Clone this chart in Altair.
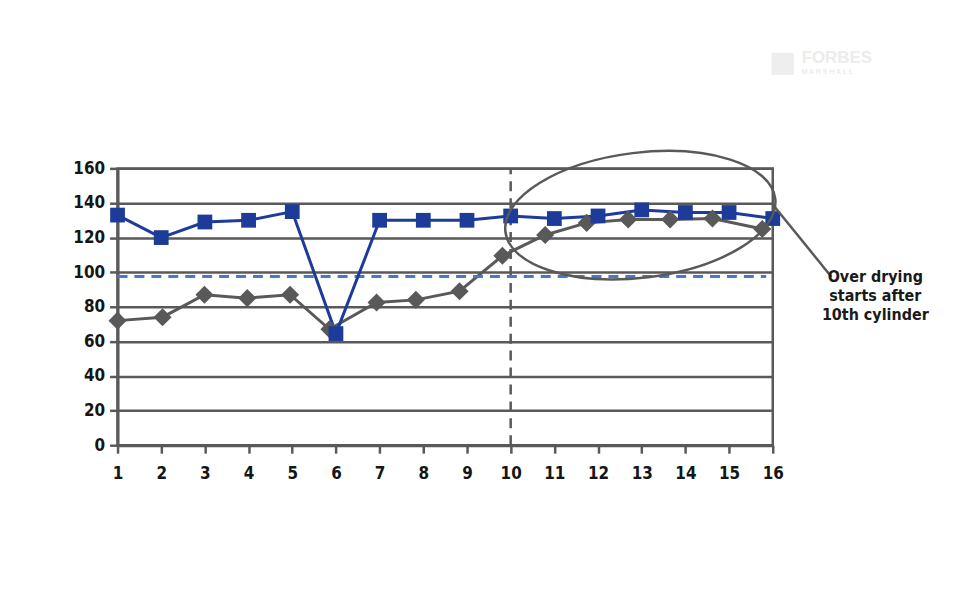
import altair as alt
import pandas as pd

# ---- data ----
cylinders = list(range(1, 17))
blue_values = [133, 120, 129, 130, 135, 64.5, 130, 130, 130, 132.5, 131, 132.5, 136, 134.5, 134.5, 131]
gray_positions = [1, 2.03, 2.99, 3.97, 4.95, 5.85, 6.93, 7.83, 8.83, 9.81, 10.79, 11.74, 12.69, 13.65, 14.62, 15.76]
gray_values = [72, 74, 87, 85, 87, 67, 82.5, 84, 89, 109.5, 121.5, 128.5, 130.5, 130.5, 131, 125]
target_level = 97.5
target_span = [1, 15.85]
marker_cylinder = 10
y_ticks = [0, 20, 40, 60, 80, 100, 120, 140, 160]
note_text = "Over drying\nstarts after\n10th cylinder"

W, H = 658, 278
FONT = "Liberation Sans Narrow, DejaVu Sans Condensed, Liberation Sans, sans-serif"
DARK = "#595959"
BLUE = "#1d3b98"
LIGHTBLUE = "#4a78c6"

blue_df = pd.DataFrame({"cyl": cylinders, "val": blue_values})
gray_df = pd.DataFrame({"cyl": gray_positions, "val": gray_values})

xs = alt.Scale(domain=[1, 16], nice=False, zero=False)
ys = alt.Scale(domain=[0, 160], nice=False)

x_axis = alt.Axis(values=cylinders, format="d", title=None, grid=False,
                  domainColor=DARK, domainWidth=3, tickColor=DARK, tickWidth=2.5,
                  tickSize=8, labelPadding=12, labelFont=FONT, labelFontSize=17,
                  labelFontWeight="bold", labelColor="#151515", labelOverlap=False,
                  labelFlush=False)
y_axis = alt.Axis(values=y_ticks, title=None, grid=True, gridColor=DARK, gridWidth=2.5,
                  domainColor=DARK, domainWidth=3, tickColor=DARK, tickWidth=2.5,
                  tickSize=8, labelPadding=5, labelFont=FONT, labelFontSize=17,
                  labelFontWeight="bold", labelColor="#151515", labelOverlap=False,
                  labelFlush=False)


def X(field):
    return alt.X(field, scale=xs, axis=x_axis)


def Y(field):
    return alt.Y(field, scale=ys, axis=y_axis)


base_gray = alt.Chart(gray_df).encode(x=X("cyl:Q"), y=Y("val:Q"))
gray_line = base_gray.mark_line(color=DARK, strokeWidth=3)
gray_pts = base_gray.mark_point(shape="diamond", filled=True, size=330, color=DARK, opacity=1)

base_blue = alt.Chart(blue_df).encode(x=X("cyl:Q"), y=Y("val:Q"))
blue_line = base_blue.mark_line(color=BLUE, strokeWidth=3)
blue_pts = base_blue.mark_point(shape="square", filled=True, size=220, color=BLUE, opacity=1)

target_df = pd.DataFrame({"cyl": [target_span[0]], "x2": [target_span[1]], "val": [target_level]})
target = alt.Chart(target_df).mark_rule(
    color=LIGHTBLUE, strokeWidth=3, strokeDash=[10, 7]
).encode(x=X("cyl:Q"), x2="x2:Q", y=Y("val:Q"))

vline_df = pd.DataFrame({"cyl": [marker_cylinder], "val": [0], "y2": [160]})
vline = alt.Chart(vline_df).mark_rule(
    color=DARK, strokeWidth=2.5, strokeDash=[10, 7]
).encode(x=X("cyl:Q"), y=Y("val:Q"), y2="y2:Q")

ELLIPSE = ("M-1,0 C-1,-0.254 -0.5523,-0.46 0,-0.46 C0.5523,-0.46 1,-0.254 1,0 "
           "C1,0.254 0.5523,0.46 0,0.46 C-0.5523,0.46 -1,0.254 -1,0 Z")
dummy = pd.DataFrame({"a": [0]})
ellipse = alt.Chart(dummy).mark_point(
    shape=ELLIPSE, size=74529, filled=False, stroke=DARK, strokeWidth=2.5, angle=353, opacity=1
).encode(x=alt.value(525), y=alt.value(47))

pointer = alt.Chart(dummy).mark_rule(color=DARK, strokeWidth=2.5).encode(
    x=alt.value(657), x2=alt.value(717), y=alt.value(35), y2=alt.value(109)
)

note = alt.Chart(dummy).mark_text(
    text=note_text, lineBreak="\n", lineHeight=19, align="center", baseline="top",
    font=FONT, fontSize=16, fontWeight="bold", color="#1a1a1a"
).encode(x=alt.value(761), y=alt.value(101))

wm1 = alt.Chart(dummy).mark_text(text="FORBES", font="Liberation Sans", fontSize=17,
                                 fontWeight="bold", color="#ececec", align="left", baseline="middle"
                                 ).encode(x=alt.value(687), y=alt.value(-111))
wm2 = alt.Chart(dummy).mark_text(text="M A R S H A L L", font="Liberation Sans", fontSize=7,
                                 fontWeight="bold", color="#ececec", align="left", baseline="middle"
                                 ).encode(x=alt.value(687), y=alt.value(-97))
wm3 = alt.Chart(dummy).mark_point(shape="square", filled=True, size=500, color="#eeeeee", opacity=1
                                  ).encode(x=alt.value(668), y=alt.value(-105))

chart = alt.layer(
    gray_line, vline, target, blue_line, gray_pts, blue_pts, ellipse, pointer, note, wm3, wm1, wm2
).properties(
    width=W, height=H,
    autosize=alt.AutoSizeParams(type="none"),
    padding={"left": 110, "top": 160, "right": 180, "bottom": 60},
).configure(background="white").configure_view(stroke=DARK, strokeWidth=2.5)

chart.save("out.html", embed_options={"renderer": "svg", "actions": False})
